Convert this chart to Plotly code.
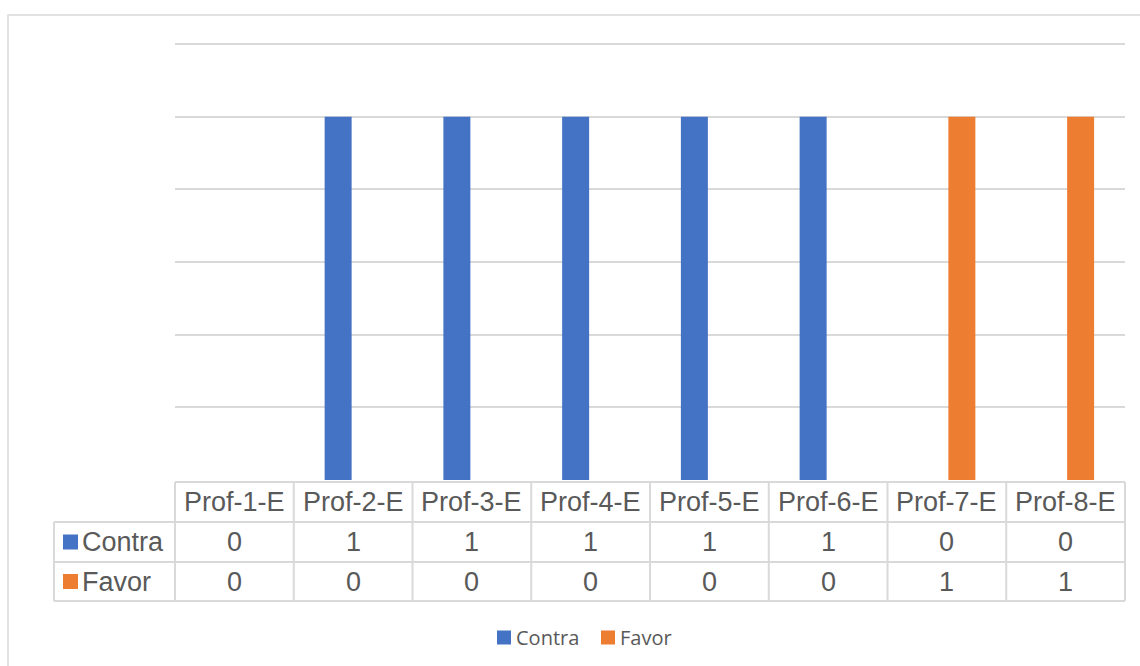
import plotly.graph_objects as go

# --- data -------------------------------------------------------------
categories = ["Prof-1-E", "Prof-2-E", "Prof-3-E", "Prof-4-E",
              "Prof-5-E", "Prof-6-E", "Prof-7-E", "Prof-8-E"]
contra = [0, 1, 1, 1, 1, 1, 0, 0]
favor = [0, 0, 0, 0, 0, 0, 1, 1]
series_names = ["Contra", "Favor"]
series_colors = ["#4472C4", "#ED7D31"]
y_ticks = [0.2, 0.4, 0.6, 0.8, 1.0, 1.2]

# --- geometry (pixels) ------------------------------------------------
W, H = 1140, 666
L, R, T, B = 175, 15, 40, 186
PLOT_W = W - L - R
PLOT_H = H - T - B
GRID = "#d9d9d9"
TXT = "#595959"
# value scale: 1.2 sits at pixel row 44, 0 at the plot bottom
Y_TOP = 1.2 * PLOT_H / (H - B - 44)


def px_x(X):
    return (X - L) / PLOT_W


def px_y(Y):
    return (H - B - Y) / PLOT_H


fig = go.Figure()
for name, vals, col in zip(series_names, [contra, favor], series_colors):
    fig.add_trace(go.Bar(x=categories, y=vals, name=name,
                         marker=dict(color=col, line=dict(width=0)),
                         showlegend=False))

shapes = []
annotations = []

# outer chart frame (right/bottom edges fall outside the page)
shapes.append(dict(type="rect", xref="paper", yref="paper",
                   x0=px_x(8), x1=px_x(W + 20), y0=px_y(H + 20), y1=px_y(15),
                   line=dict(color=GRID, width=1.5), fillcolor="rgba(0,0,0,0)",
                   layer="below"))

# data table below the plot
n = len(categories)
row_tops = [482, 522, 562, 601]
# header row top line and column dividers
shapes.append(dict(type="line", xref="paper", yref="paper",
                   x0=0, x1=1, y0=px_y(row_tops[0]), y1=px_y(row_tops[0]),
                   line=dict(color=GRID, width=2)))
for k in range(n + 1):
    shapes.append(dict(type="line", xref="paper", yref="paper",
                       x0=k / n, x1=k / n,
                       y0=px_y(row_tops[0]), y1=px_y(row_tops[-1]),
                       line=dict(color=GRID, width=2)))
# row lines spanning the label column
for yy in row_tops[1:]:
    shapes.append(dict(type="line", xref="paper", yref="paper",
                       x0=px_x(54), x1=1, y0=px_y(yy), y1=px_y(yy),
                       line=dict(color=GRID, width=2)))
shapes.append(dict(type="line", xref="paper", yref="paper",
                   x0=px_x(54), x1=px_x(54),
                   y0=px_y(row_tops[1]), y1=px_y(row_tops[-1]),
                   line=dict(color=GRID, width=2)))

table_font = dict(family="Liberation Sans, Arial", size=27, color=TXT)
# header labels
for c in categories:
    annotations.append(dict(x=c, xref="x", yref="paper",
                            y=px_y((row_tops[0] + row_tops[1]) / 2),
                            text=c, showarrow=False, font=table_font,
                            xanchor="center", yanchor="middle"))
# value rows with colour keys
for r, (name, vals, col) in enumerate(zip(series_names, [contra, favor], series_colors)):
    yc = (row_tops[r + 1] + row_tops[r + 2]) / 2
    shapes.append(dict(type="rect", xref="paper", yref="paper",
                       x0=px_x(63), x1=px_x(78),
                       y0=px_y(yc + 7.5), y1=px_y(yc - 7.5),
                       fillcolor=col, line=dict(width=0)))
    annotations.append(dict(x=px_x(80), xref="paper", yref="paper", y=px_y(yc),
                            text=name, showarrow=False, font=table_font,
                            xanchor="left", yanchor="middle"))
    for c, v in zip(categories, vals):
        annotations.append(dict(x=c, xref="x", yref="paper", y=px_y(yc),
                                text=str(v), showarrow=False, font=table_font,
                                xanchor="center", yanchor="middle"))

# bottom legend
legend_font = dict(family="Open Sans", size=20, color=TXT)
leg_y = 637.5
for name, col, mx in zip(series_names, series_colors, [497, 601]):
    shapes.append(dict(type="rect", xref="paper", yref="paper",
                       x0=px_x(mx), x1=px_x(mx + 14),
                       y0=px_y(leg_y + 7), y1=px_y(leg_y - 7),
                       fillcolor=col, line=dict(width=0)))
    annotations.append(dict(x=px_x(mx + 17), xref="paper", yref="paper", y=px_y(leg_y),
                            text=name, showarrow=False, font=legend_font,
                            xanchor="left", yanchor="middle"))

fig.update_layout(
    width=W, height=H,
    margin=dict(l=L, r=R, t=T, b=B, pad=0),
    paper_bgcolor="white", plot_bgcolor="white",
    barmode="group", bargap=0.495, bargroupgap=0.1,
    xaxis=dict(showticklabels=False, showgrid=False, zeroline=False,
               showline=False, ticks="", range=[-0.5, n - 0.5]),
    yaxis=dict(range=[0, Y_TOP], tickmode="array", tickvals=y_ticks,
               showticklabels=False,
               showgrid=True, gridcolor=GRID, gridwidth=2,
               zeroline=False, showline=False, ticks=""),
    shapes=shapes, annotations=annotations,
)

fig.write_html("out.html")
